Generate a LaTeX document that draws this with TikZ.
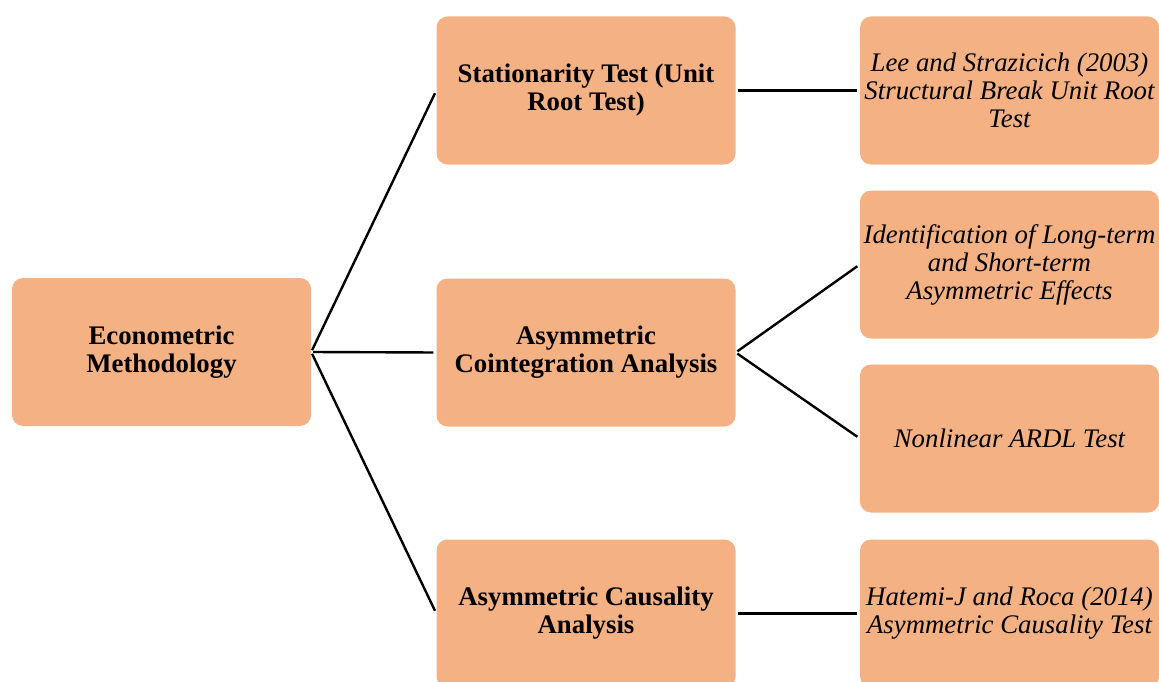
\documentclass[tikz,border=0pt]{standalone}
\usepackage{fontspec}
\setmainfont{Liberation Serif}
\definecolor{boxfill}{HTML}{F4B183}
\begin{document}
\begin{tikzpicture}[x=1pt,y=-1pt,
  box/.style={fill=boxfill, draw=none, rounded corners=11pt, minimum width=299pt, minimum height=148pt, inner sep=0pt, align=center},
  mbox/.style={box, font=\bfseries\fontsize{26.8}{28}\selectfont},
  rbox/.style={box, font=\itshape\fontsize{26.8}{28}\selectfont},
  link/.style={line width=2.4pt, shorten <=2pt, shorten >=3pt}]
\useasboundingbox (0,0) rectangle (1159,682);
\node[mbox] (root) at (161.5,352) {Econometric\\Methodology};
\node[mbox] (m1) at (586,90.5) {Stationarity Test (Unit\\Root Test)};
\node[mbox] (m2) at (586,352.5) {Asymmetric\\Cointegration Analysis};
\node[mbox] (m3) at (586,613.5) {Asymmetric Causality\\Analysis};
\node[rbox] (r1) at (1009.5,90.5) {Lee and Strazicich (2003)\\Structural Break Unit Root\\Test};
\node[rbox] (r2) at (1009.5,264.5) {Identification of Long-term\\and Short-term\\Asymmetric Effects};
\node[rbox] (r3) at (1009.5,438.5) {Nonlinear ARDL Test};
\node[rbox] (r4) at (1009.5,613.5) {Hatemi-J and Roca (2014)\\Asymmetric Causality Test};
\draw[link] (root.east) -- (m1.west);
\draw[link] (root.east) -- (m2.west);
\draw[link] (root.east) -- (m3.west);
\draw[link] (m1.east) -- (r1.west);
\draw[link] (m2.east) -- (r2.west);
\draw[link] (m2.east) -- (r3.west);
\draw[link] (m3.east) -- (r4.west);
\end{tikzpicture}
\end{document}
